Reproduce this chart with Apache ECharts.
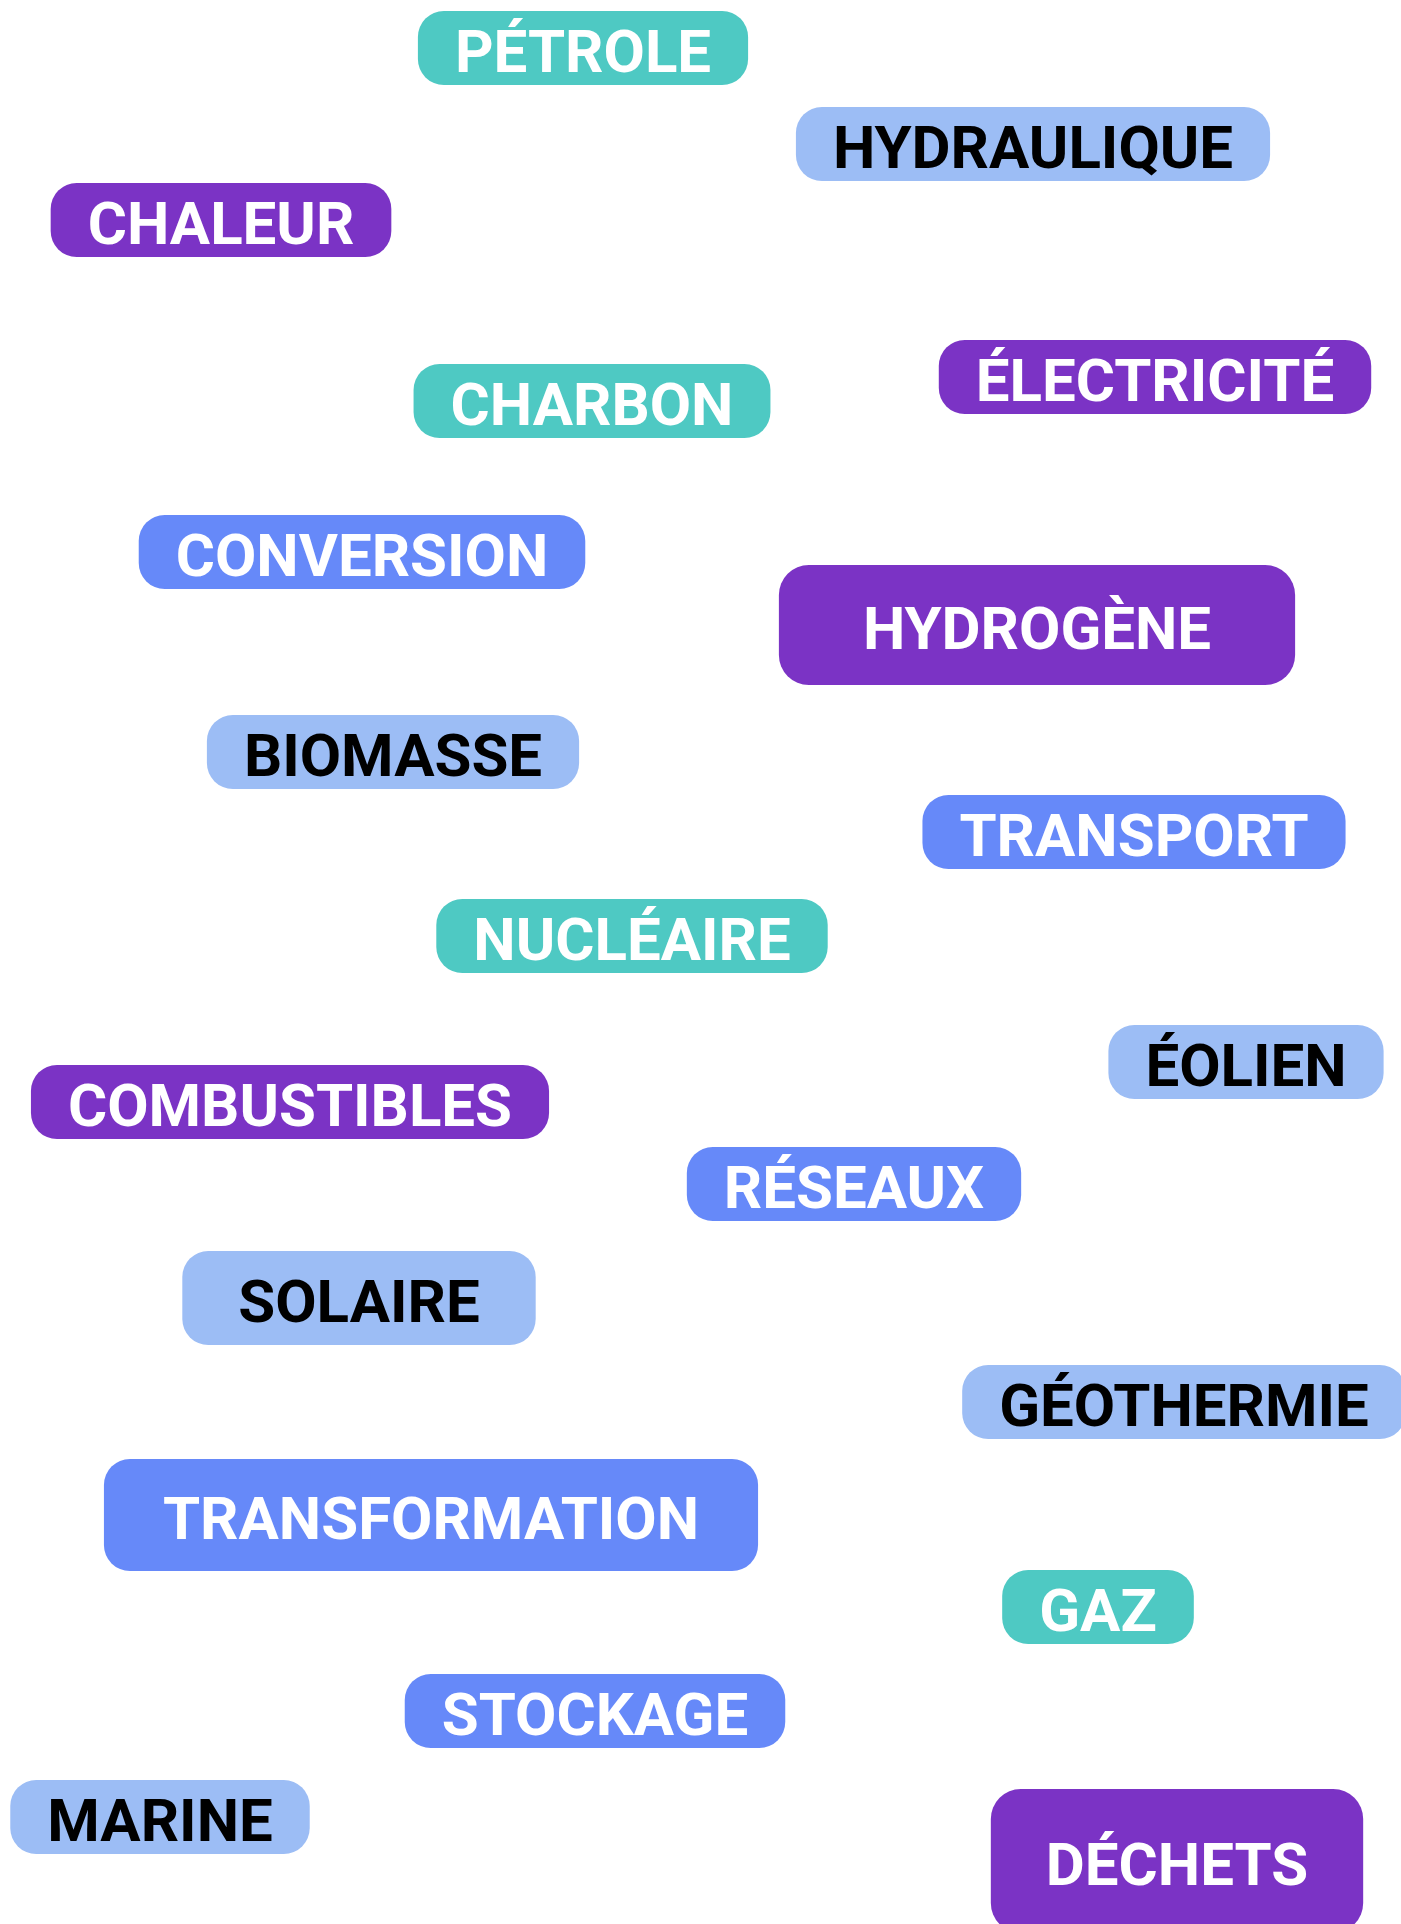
<!DOCTYPE html>
<html>
<head>
<meta charset="utf-8">
<title>Energie</title>
<script src="https://cdn.jsdelivr.net/npm/echarts@6/dist/echarts.min.js"></script>
<style>
    html, body {margin: 0; padding: 0; background: #fff;}
    #cloud {width: 1401px; height: 1924px;}
</style>
</head>
<body>
<div id="cloud"></div>
<script>
// mots et centre de chaque etiquette (pixels du dessin)
var words = ['PÉTROLE', 'HYDRAULIQUE', 'CHALEUR', 'ÉLECTRICITÉ', 'CHARBON', 'CONVERSION', 'HYDROGÈNE',
    'BIOMASSE', 'TRANSPORT', 'NUCLÉAIRE', 'ÉOLIEN', 'COMBUSTIBLES', 'RÉSEAUX', 'SOLAIRE', 'GÉOTHERMIE',
    'TRANSFORMATION', 'GAZ', 'STOCKAGE', 'MARINE', 'DÉCHETS'];
var xPos = [583, 1033, 221, 1155, 592, 362, 1037, 393, 1134, 632, 1246, 290, 854, 359, 1184, 431, 1098, 595, 160, 1177];
var yPos = [48, 144, 220, 377, 401, 552, 625, 752, 832, 936, 1062, 1102, 1184, 1298, 1402, 1515, 1607, 1711, 1817, 1861];
// famille : 0 fossile, 1 vecteur, 2 procede, 3 renouvelable
var groups = [0, 3, 1, 1, 0, 2, 1, 3, 2, 0, 3, 1, 2, 3, 3, 2, 0, 2, 3, 1];

var groupColors = ['#4ec9c3', '#7b33c5', '#6689f9', '#9cbdf5'];
var textColors = ['#ffffff', '#ffffff', '#ffffff', '#000000'];

// etiquettes plus grandes que les autres [haut/bas, gauche/droite]
var bigPadding = {
    'HYDROGÈNE': [39, 84],
    'SOLAIRE': [26, 56],
    'TRANSFORMATION': [35, 59],
    'DÉCHETS': [51, 55]
};
var nudge = 18; // descend le texte dans sa boite

var points = [];
for (var i = 0; i < words.length; i++) {
    var g = groups[i];
    var p = bigPadding[words[i]] || [16, 37];
    points.push({
        name: words[i],
        value: [xPos[i], yPos[i]],
        label: {
            backgroundColor: groupColors[g],
            padding: [p[0], p[1]],
            borderRadius: words[i] === 'HYDROGÈNE' || words[i] === 'DÉCHETS' ? 30 : 26,
            rich: {
                t: {
                    color: textColors[g],
                    fontFamily: 'Roboto',
                    fontWeight: 'bold',
                    fontSize: 60,
                    lineHeight: 42,
                    padding: [nudge, 0, 0, 0]
                }
            }
        }
    });
}

var chart = echarts.init(document.getElementById('cloud'), null, {renderer: 'canvas'});

var option = {
    animation: false,
    backgroundColor: '#ffffff',
    grid: {left: 0, right: 0, top: 0, bottom: 0},
    xAxis: {type: 'value', min: 0, max: 1401, show: false},
    yAxis: {type: 'value', min: 0, max: 1924, inverse: true, show: false},
    series: [
        {
            type: 'scatter',
            symbolSize: 0,
            clip: false,
            itemStyle: {opacity: 1},
            data: points,
            label: {
                show: true,
                position: 'inside',
                formatter: function (params) {
                    return '{t|' + params.name + '}';
                },
                opacity: 1
            },
            emphasis: {disabled: true}
        }
    ]
};

chart.setOption(option);
</script>
</body>
</html>
